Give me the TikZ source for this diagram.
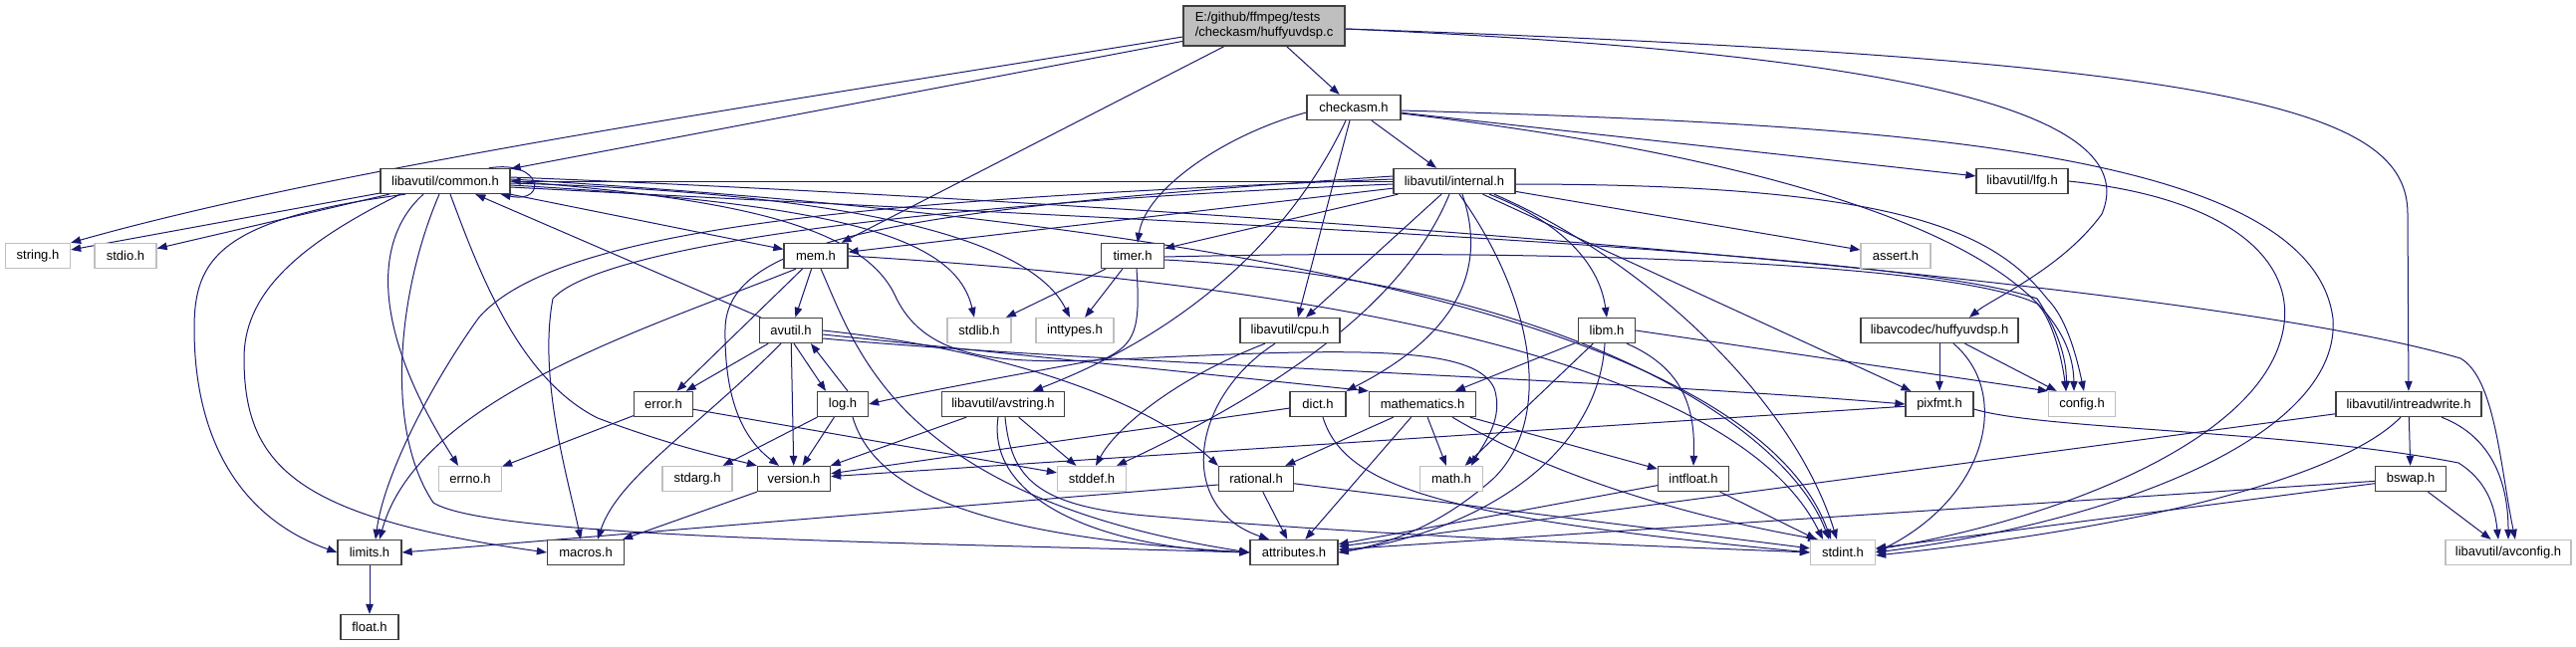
\documentclass[tikz,border=0pt]{standalone}
\usepackage{fontspec}
\setmainfont{Liberation Sans}
\usetikzlibrary{arrows.meta}
\definecolor{edgecol}{HTML}{191970}
\definecolor{boxline}{HTML}{404040}
\definecolor{sysline}{HTML}{BFBFBF}
\definecolor{rootfill}{HTML}{BFBFBF}
\pgfdeclarelayer{back}
\pgfdeclarelayer{edges}
\pgfsetlayers{back,edges,main}
\begin{document}
\begin{tikzpicture}[x=1pt,y=-1pt,
  box/.style={draw=boxline, line width=1.3pt, fill=white, minimum height=25pt, inner sep=0pt, font=\fontsize{13}{15}\selectfont},
  sys/.style={box, draw=sysline},
  root/.style={box, fill=rootfill, minimum height=40pt, align=left},
  dep/.style={draw=edgecol, line width=1pt, -{Triangle[length=10pt,width=7.5pt]}}]
\begin{pgfonlayer}{back}
\fill[white] (0,0) rectangle (2586,649);
\end{pgfonlayer}
\path[use as bounding box] (0,0) rectangle (2586,649);

\node[root, minimum width=162pt] (main) at (1269,26) {E:/github/ffmpeg/tests\\/checkasm/huffyuvdsp.c};
\node[box, minimum width=94pt] (checkasm) at (1359,108) {checkasm.h};
\node[box, minimum width=130pt] (common) at (447,182) {libavutil/common.h};
\node[box, minimum width=122pt] (internal) at (1460,182) {libavutil/internal.h};
\node[box, minimum width=92pt] (lfg) at (2030,182) {libavutil/lfg.h};
\node[sys, minimum width=65pt] (string) at (38,257) {string.h};
\node[sys, minimum width=62pt] (stdio) at (126,257) {stdio.h};
\node[box, minimum width=64pt] (mem) at (819,257) {mem.h};
\node[box, minimum width=63pt] (timer) at (1137,257) {timer.h};
\node[sys, minimum width=70pt] (assert) at (1903,257) {assert.h};
\node[box, minimum width=63pt] (avutil) at (794,332) {avutil.h};
\node[sys, minimum width=64pt] (stdlib) at (983,332) {stdlib.h};
\node[sys, minimum width=78pt] (inttypes) at (1079,332) {inttypes.h};
\node[box, minimum width=100pt] (cpu) at (1295,332) {libavutil/cpu.h};
\node[box, minimum width=57pt] (libm) at (1613,332) {libm.h};
\node[box, minimum width=158pt] (huffyuvdsp) at (1947,332) {libavcodec/huffyuvdsp.h};
\node[box, minimum width=59pt] (error) at (666,406) {error.h};
\node[box, minimum width=51pt] (log) at (846,406) {log.h};
\node[box, minimum width=123pt] (avstring) at (1007,406) {libavutil/avstring.h};
\node[box, minimum width=56pt] (dict) at (1323,406) {dict.h};
\node[box, minimum width=107pt] (mathematics) at (1428,406) {mathematics.h};
\node[box, minimum width=68pt] (pixfmt) at (1947,406) {pixfmt.h};
\node[sys, minimum width=67pt] (config) at (2090,406) {config.h};
\node[box, minimum width=146pt] (intreadwrite) at (2418,406) {libavutil/intreadwrite.h};
\node[sys, minimum width=63pt] (errno) at (472,481) {errno.h};
\node[sys, minimum width=70pt] (stdarg) at (700,481) {stdarg.h};
\node[box, minimum width=73pt] (version) at (797,481) {version.h};
\node[sys, minimum width=69pt] (stddef) at (1096,481) {stddef.h};
\node[box, minimum width=75pt] (rational) at (1261,481) {rational.h};
\node[sys, minimum width=63pt] (math) at (1457,481) {math.h};
\node[box, minimum width=71pt] (intfloat) at (1700,481) {intfloat.h};
\node[box, minimum width=71pt] (bswap) at (2420,481) {bswap.h};
\node[box, minimum width=64pt] (limits) at (371,555) {limits.h};
\node[box, minimum width=77pt] (macros) at (588,555) {macros.h};
\node[box, minimum width=88pt] (attributes) at (1299,555) {attributes.h};
\node[sys, minimum width=65pt] (stdint) at (1850,555) {stdint.h};
\node[sys, minimum width=126pt] (avconfig) at (2518,555) {libavutil/avconfig.h};
\node[box, minimum width=58pt] (float) at (371,630) {float.h};

\begin{pgfonlayer}{edges}
% main file
\draw[dep] ([yshift=-11pt]main.west) .. controls (800,100) and (350,165) .. (string.north east);
\draw[dep] (main) -- (common);
\draw[dep] (main) -- (mem);
\draw[dep] (main) -- (checkasm);
\draw[dep] ([yshift=-3pt]main.east) .. controls (1950,55) and (2150,120) .. (2110,215) .. controls (2070,270) and (2000,300) .. ([xshift=30pt]huffyuvdsp.north);
\draw[dep] ([yshift=-3pt]main.east) .. controls (2250,60) and (2417,110) .. (2417,215) -- (intreadwrite);
% checkasm.h
\draw[dep] ([yshift=-5pt]checkasm.west) .. controls (1230,135) and (1150,190) .. ([xshift=5pt]timer.north);
\draw[dep] (checkasm) -- (internal);
\draw[dep] ([xshift=-4pt]checkasm.south) -- ([xshift=8pt]cpu.north);
\draw[dep] ([xshift=-8pt]checkasm.south) .. controls (1300,230) and (1200,330) .. ([xshift=30pt]avstring.north);
\draw[dep] (checkasm) -- (lfg);
\draw[dep] ([yshift=-3pt]checkasm.east) .. controls (1900,125) and (2320,150) .. (2342,320) .. controls (2350,430) and (2150,520) .. (stdint.east);
\draw[dep] ([yshift=-6pt]checkasm.east) .. controls (1800,160) and (2080,250) .. ([xshift=-8pt]config.north);
% common.h
\draw[dep] (common) -- (string);
\draw[dep] (common) -- (stdio);
\draw[dep] ([xshift=-40pt]common.south) .. controls (220,220) and (195,260) .. (195,330) .. controls (195,440) and (240,520) .. (limits.west);
\draw[dep] ([xshift=-45pt]common.south) .. controls (290,250) and (245,300) .. (245,360) .. controls (245,470) and (300,520) .. (macros.west);
\draw[dep] ([xshift=-22pt]common.south) .. controls (375,240) and (372,330) .. ([xshift=-12pt]errno.north);
\draw[dep] ([xshift=-6pt]common.south) .. controls (400,290) and (385,430) .. (435,505) .. controls (490,540) and (900,545) .. (attributes.west);
\draw[dep] ([xshift=5pt]common.south) .. controls (480,270) and (520,380) .. (600,420) .. controls (680,450) and (730,460) .. (version.north west);
\draw[dep] (common) -- (mem);
\draw[dep] ([yshift=-4pt]common.east) .. controls (850,205) and (960,240) .. ([xshift=-5pt]stdlib.north);
\draw[dep] ([yshift=-2pt]common.east) .. controls (900,195) and (1040,250) .. ([xshift=-5pt]inttypes.north);
\draw[dep] (common.east) .. controls (750,200) and (870,230) .. (900,300) .. controls (930,360) and (1000,365) .. (1100,362) .. controls (1350,350) and (1480,345) .. (1500,390) .. controls (1510,420) and (1490,445) .. ([xshift=20pt]math.north);
\draw[dep] ([yshift=2pt]common.east) .. controls (1100,215) and (1750,300) .. ([xshift=-12pt]stdint.north);
\draw[dep] ([yshift=4pt]common.east) .. controls (1200,205) and (2200,280) .. (2470,360) .. controls (2505,380) and (2510,470) .. ([xshift=7pt]avconfig.north);
\draw[dep] ([yshift=-6pt]common.east) .. controls (1200,225) and (1900,250) .. (2045,300) .. controls (2065,330) and (2075,360) .. ([xshift=-16pt]config.north);
\draw[dep] ([xshift=-22pt]common.north east) .. controls (545,160) and (550,205) .. ([xshift=-10pt]common.south east);
% internal.h
\draw[dep] ([yshift=2pt]internal.west) .. controls (900,200) and (560,225) .. (480,320) .. controls (430,390) and (385,480) .. ([xshift=6pt]limits.north);
\draw[dep] ([xshift=40pt]internal.south) .. controls (1650,260) and (1800,400) .. ([xshift=-6pt]stdint.north);
\draw[dep] ([xshift=-5pt]internal.south) .. controls (1420,280) and (1330,370) .. ([xshift=25pt]stddef.north);
\draw[dep] (internal) -- (assert);
\draw[dep] ([yshift=-3pt]internal.east) .. controls (1900,185) and (2000,230) .. (2055,300) .. controls (2075,320) and (2085,360) .. ([xshift=2pt]config.north);
\draw[dep] ([xshift=5pt]internal.south) .. controls (1540,300) and (1560,420) .. (1500,480) .. controls (1450,525) and (1400,545) .. (attributes.east);
\draw[dep] (internal) -- (timer);
\draw[dep] ([xshift=-13pt]internal.south) -- ([xshift=16pt]cpu.north);
\draw[dep] ([xshift=8pt]internal.south) .. controls (1490,260) and (1475,330) .. (dict.north east);
\draw[dep] ([yshift=-3pt]internal.west) .. controls (900,205) and (600,250) .. (555,300) .. controls (540,380) and (570,480) .. ([xshift=-5pt]macros.north);
\draw[dep] (internal) -- (mem);
\draw[dep] (internal) -- (pixfmt);
\draw[dep] ([yshift=5pt]internal.west) .. controls (900,210) and (730,240) .. (728,330) .. controls (727,400) and (745,440) .. ([xshift=-15pt]version.north);
\draw[dep] ([xshift=35pt]internal.south) .. controls (1560,220) and (1605,260) .. (libm.north);
\draw[dep] (internal) -- (common);
% lfg.h
\draw[dep] (lfg.east) .. controls (2250,200) and (2310,270) .. (2290,340) .. controls (2260,450) and (2050,525) .. ([yshift=3pt]stdint.east);
% mem.h
\draw[dep] ([xshift=-20pt]mem.south) .. controls (650,330) and (420,400) .. ([xshift=10pt]limits.north);
\draw[dep] (mem.east) .. controls (1400,290) and (1750,380) .. ([xshift=-20pt]stdint.north);
\draw[dep] ([xshift=5pt]mem.south) .. controls (860,350) and (900,500) .. (attributes.west);
\draw[dep] (mem) -- (error);
\draw[dep] (mem) -- (avutil);
% timer.h
\draw[dep] (timer) -- (stdlib);
\draw[dep] (timer) -- (inttypes);
\draw[dep] ([yshift=-4pt]timer.east) .. controls (1550,280) and (1790,420) .. ([xshift=-14pt]stdint.north);
\draw[dep] ([yshift=-1pt]timer.east) .. controls (1500,250) and (1950,260) .. (2045,305) .. controls (2060,320) and (2070,360) .. ([xshift=-16pt]config.north);
\draw[dep] ([xshift=4pt]timer.south) .. controls (1145,330) and (1140,345) .. (1110,360) .. controls (1000,380) and (920,395) .. (log.east);
% avutil.h
\draw[dep] (avutil) -- (common);
\draw[dep] (avutil) -- (error);
\draw[dep] (avutil.east) .. controls (1000,350) and (1150,400) .. (rational.north west);
\draw[dep] (avutil) -- (version);
\draw[dep] ([xshift=-10pt]avutil.south) .. controls (700,430) and (620,480) .. ([xshift=12pt]macros.north);
\draw[dep] ([xshift=3pt]avutil.south) -- ([xshift=-17pt]log.north);
\draw[dep] ([yshift=-4pt]avutil.east) -- (mathematics.north west);
\draw[dep] ([yshift=-8pt]avutil.east) .. controls (1100,365) and (1600,380) .. (pixfmt.west);
% cpu.h
\draw[dep] ([xshift=-25pt]cpu.south) .. controls (1180,380) and (1120,430) .. ([xshift=4pt]stddef.north);
\draw[dep] ([xshift=-15pt]cpu.south) .. controls (1195,400) and (1180,510) .. ([xshift=-25pt]attributes.north);
% libm.h
\draw[dep] (libm) -- (math);
\draw[dep] (libm.east) -- (config.north west);
\draw[dep] ([xshift=-2pt]libm.south) .. controls (1605,450) and (1500,530) .. (attributes.east);
\draw[dep] ([xshift=20pt]libm.south) .. controls (1690,370) and (1702,410) .. (intfloat.north);
\draw[dep] (libm) -- (mathematics);
% huffyuvdsp.h
\draw[dep] (huffyuvdsp) -- (pixfmt);
\draw[dep] (huffyuvdsp) -- (config);
\draw[dep] ([xshift=14pt]huffyuvdsp.south) .. controls (2020,395) and (1995,500) .. (stdint.east);
% error.h
\draw[dep] (error) -- (errno);
\draw[dep] (error) -- (stddef);
% log.h
\draw[dep] (log) -- (stdarg);
\draw[dep] (log) -- (version);
\draw[dep] ([xshift=5pt]log.north) -- ([xshift=20pt]avutil.south);
\draw[dep] ([xshift=10pt]log.south) .. controls (880,500) and (1000,540) .. (attributes.west);
% avstring.h
\draw[dep] (avstring) -- (version);
\draw[dep] (avstring) -- (stddef);
\draw[dep] ([xshift=2pt]avstring.south) .. controls (1015,480) and (1040,508) .. (1150,518) .. controls (1400,540) and (1700,550) .. (stdint.west);
\draw[dep] ([xshift=-5pt]avstring.south) .. controls (990,500) and (1100,550) .. (attributes.west);
% dict.h
\draw[dep] (dict) -- (version);
\draw[dep] ([xshift=5pt]dict.south) .. controls (1350,490) and (1450,520) .. (stdint.west);
% mathematics.h
\draw[dep] (mathematics) -- (rational);
\draw[dep] (mathematics) -- (math);
\draw[dep] (mathematics) -- (attributes);
\draw[dep] ([xshift=30pt]mathematics.south) .. controls (1560,480) and (1700,520) .. ([xshift=-25pt]stdint.north);
\draw[dep] (mathematics) -- (intfloat);
% pixfmt.h
\draw[dep] (pixfmt) -- (version);
\draw[dep] ([yshift=-5pt]pixfmt.east) .. controls (2050,432) and (2300,432) .. (2468,465) .. controls (2500,485) and (2505,515) .. ([xshift=-10pt]avconfig.north);
% intreadwrite.h
\draw[dep] (intreadwrite) -- (attributes);
\draw[dep] ([xshift=-8pt]intreadwrite.south) .. controls (2350,480) and (2150,530) .. ([yshift=-3pt]stdint.east);
\draw[dep] (intreadwrite) -- (bswap);
\draw[dep] ([xshift=33pt]intreadwrite.south) .. controls (2505,440) and (2518,490) .. (avconfig.north);
% bswap.h
\draw[dep] (bswap) -- (attributes);
\draw[dep] (bswap) -- (stdint);
\draw[dep] (bswap) -- (avconfig);
% version.h
\draw[dep] (version) -- (macros);
% rational.h
\draw[dep] ([yshift=-6pt]rational.west) -- (limits.east);
\draw[dep] (rational) -- (attributes);
\draw[dep] (rational) -- (stdint);
% intfloat.h
\draw[dep] (intfloat) -- (attributes);
\draw[dep] (intfloat) -- (stdint);
% limits.h
\draw[dep] (limits) -- (float);
\end{pgfonlayer}
\end{tikzpicture}
\end{document}
